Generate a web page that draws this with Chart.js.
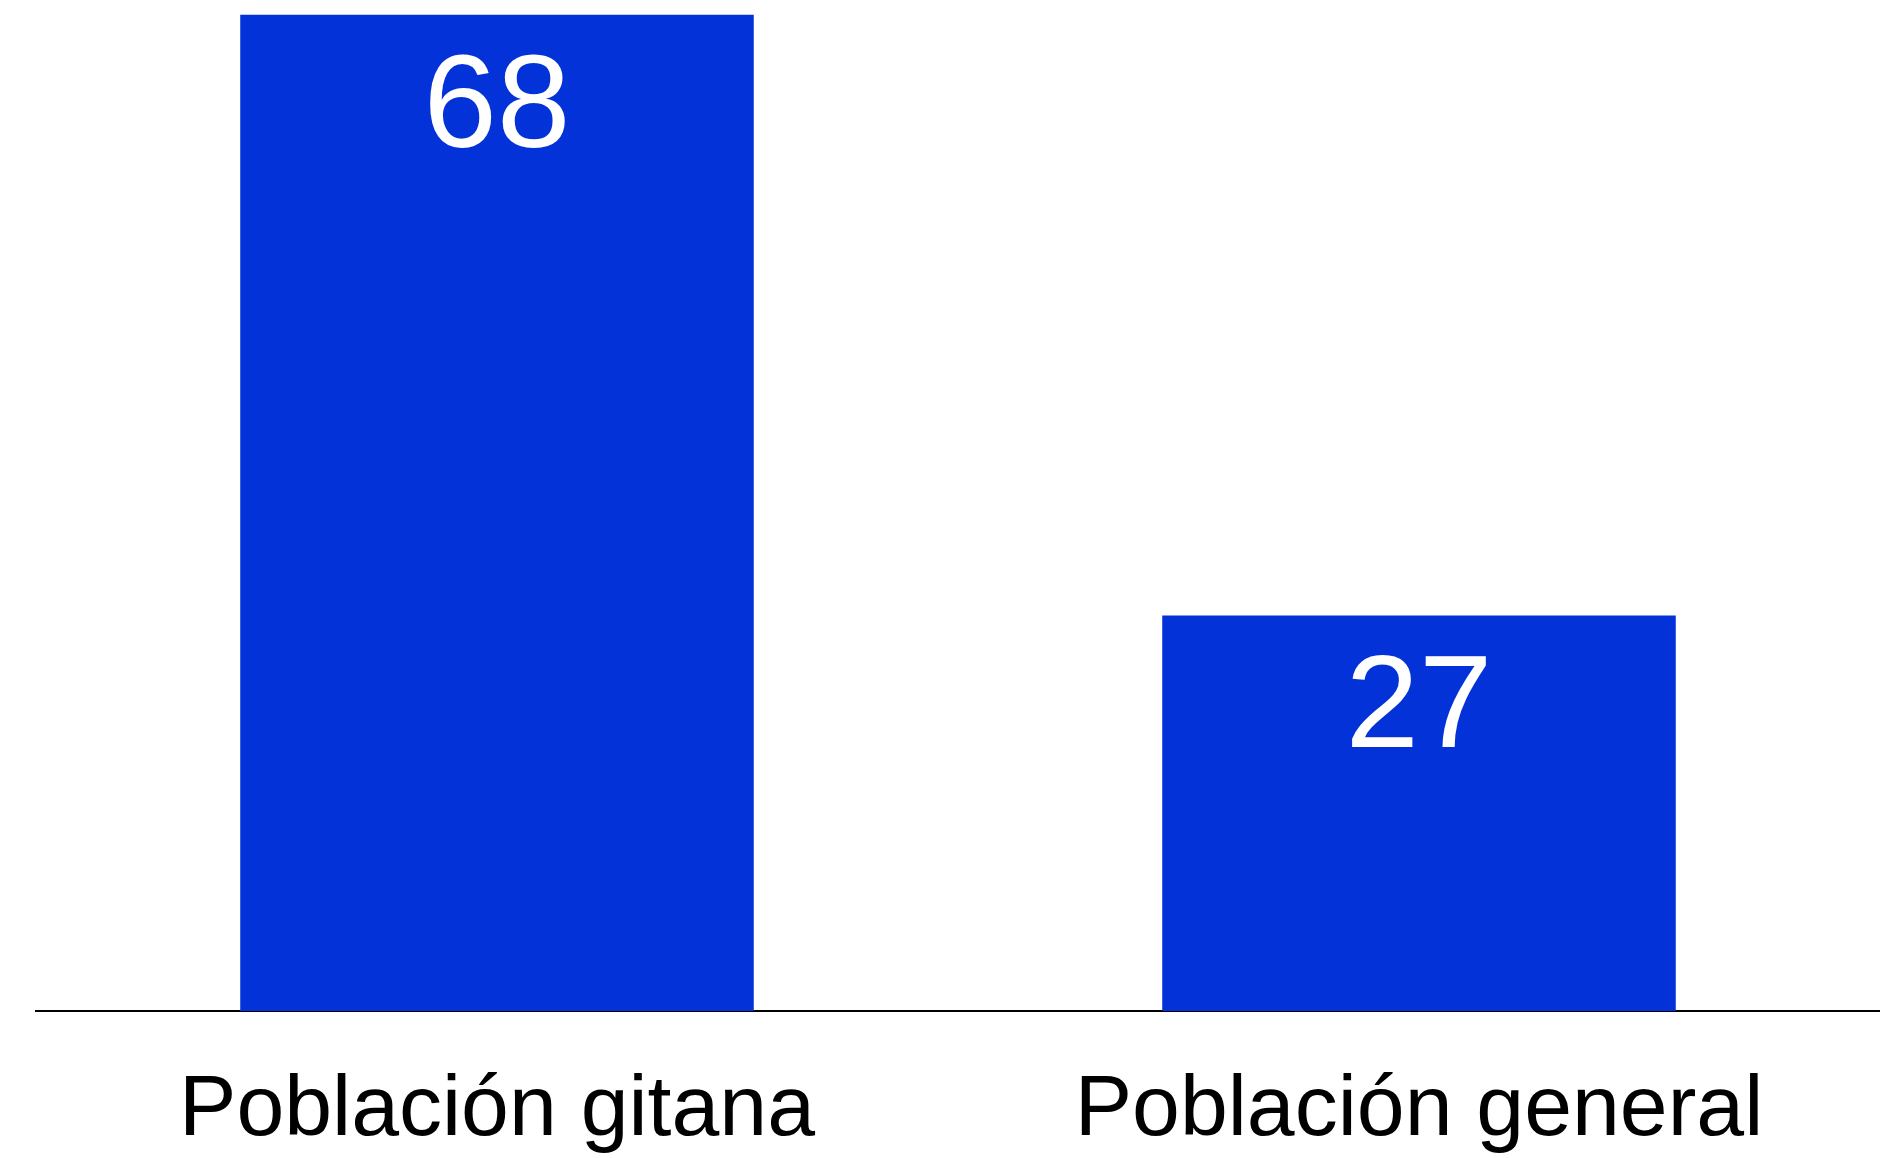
<!DOCTYPE html>
<html>
<head>
<meta charset="utf-8">
<script src="https://cdn.jsdelivr.net/npm/chart.js@4.4.1/dist/chart.umd.min.js"></script>
<style>
  html, body { margin: 0; padding: 0; background: #fff; }
  #wrap { width: 1880px; height: 1158px; position: relative; }
</style>
</head>
<body>
<div id="wrap"><canvas id="myChart"></canvas></div>
<script>
var categories = ['Población gitana', 'Población general'];
var values = [68, 27];
var barColor = '#0333d8';

// white value printed inside the top of each bar
var valueLabels = {
    id: 'valueLabels',
    afterDatasetsDraw: function (chart) {
        var ctx = chart.ctx;
        var meta = chart.getDatasetMeta(0);
        ctx.save();
        ctx.fillStyle = '#ffffff';
        ctx.font = '132px "Liberation Sans", Arial, sans-serif';
        ctx.textAlign = 'center';
        ctx.textBaseline = 'alphabetic';
        meta.data.forEach(function (bar, i) {
            ctx.fillText(String(values[i]), bar.x, bar.y + 132);
        });
        ctx.restore();
    }
};

var ctx = document.getElementById('myChart');

var chart = new Chart(ctx, {
    type: 'bar',
    data: {
        labels: categories,
        datasets: [{
            data: values,
            backgroundColor: barColor,
            barPercentage: 0.557,
            categoryPercentage: 1
        }]
    },
    options: {
        responsive: true,
        maintainAspectRatio: false,
        animation: false,
        layout: { padding: { left: 36, right: 0, top: 0, bottom: 0 } },
        plugins: {
            legend: { display: false },
            tooltip: { enabled: false }
        },
        scales: {
            y: {
                display: false,
                min: 0,
                max: 69
            },
            x: {
                grid: { display: false, drawTicks: false },
                border: { display: true, color: '#000000', width: 2 },
                afterFit: function (scale) { scale.height = 147; },
                ticks: {
                    color: '#000000',
                    padding: 49,
                    font: { family: '"Liberation Sans", Arial, sans-serif', size: 86, lineHeight: 1.2 }
                }
            }
        }
    },
    plugins: [valueLabels]
});
</script>
</body>
</html>
